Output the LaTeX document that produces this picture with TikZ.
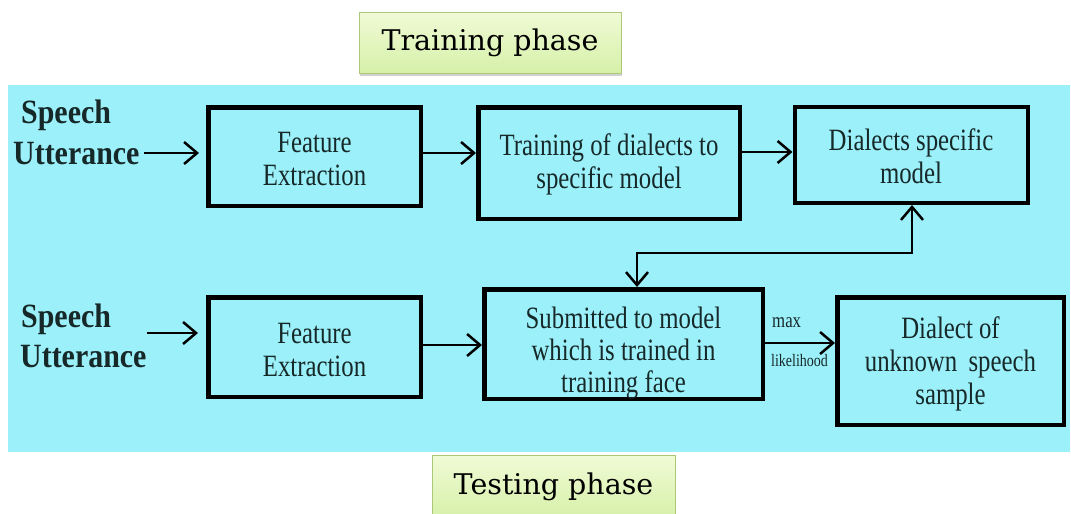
\documentclass[tikz,border=0pt]{standalone}
\usepackage{fontspec}
\setmainfont{Liberation Serif}
\newfontfamily\condserif[FakeStretch=0.8]{Liberation Serif}
\newfontfamily\labserif[FakeStretch=0.88]{Liberation Serif}
\newfontfamily\phaseserif{DejaVu Serif}
\usetikzlibrary{arrows.meta,shadows,calc}
\definecolor{bgcyan}{RGB}{156,240,250}
\definecolor{txtdark}{RGB}{22,40,40}
\definecolor{greentop}{RGB}{240,251,214}
\definecolor{greenbot}{RGB}{214,240,168}
\definecolor{greenedge}{RGB}{170,200,120}
\tikzset{
  blockbox/.style={draw=black, line width=4.5pt, fill=bgcyan, inner sep=0pt},
  boxtext/.style={align=center, inner sep=0pt, text=txtdark, font=\condserif\fontsize{31}{33}\selectfont},
  sulabel/.style={anchor=base west, inner sep=0pt, text=txtdark, font=\labserif\bfseries\fontsize{34}{40}\selectfont},
  phasebox/.style={draw=greenedge, line width=1pt, top color=greentop, bottom color=greenbot,
    drop shadow={shadow xshift=1pt, shadow yshift=-3pt, opacity=0.35},
    font=\phaseserif\fontsize{28.5}{32}\selectfont, text=black, inner sep=0pt},
  barb/.tip={Straight Barb[length=13pt,width=22pt,line width=2.5pt]},
  arr/.style={-barb, line width=2.6pt, black},
  arrr/.style={barb-barb, line width=2.6pt, black},
  smalllab/.style={inner sep=0pt, text=txtdark, anchor=base west}
}
\begin{document}
\begin{tikzpicture}[x=1pt,y=-1pt]
\useasboundingbox (0,0) rectangle (1071,514);
\fill[white] (0,0) rectangle (1071,514);
\fill[bgcyan] (8,85) rectangle (1070,452);

% phase labels
\node[phasebox, minimum width=262pt, minimum height=61pt] (train) at (490,42.5) {Training phase};
\node[phasebox, minimum width=243pt, minimum height=64pt] (test) at (553.5,487) {Testing phase};

% speech utterance labels
\node[sulabel] (su1a) at (21,123) {Speech};
\node[sulabel] (su1b) at (13,164) {Utterance};
\node[sulabel] (su2a) at (21,327) {Speech};
\node[sulabel] (su2b) at (20,367) {Utterance};

% training row
\node[blockbox, minimum width=212.5pt, minimum height=98.5pt] (fe1) at (314.5,156.5) {};
\node[blockbox, minimum width=261.5pt, minimum height=111.5pt] (tr) at (609,163) {};
\node[blockbox, line width=4pt, minimum width=233pt, minimum height=96pt] (dm) at (911,155) {};

% testing row
\node[blockbox, minimum width=212.5pt, minimum height=99.5pt] (fe2) at (314.5,347) {};
\node[blockbox, minimum width=278.5pt, minimum height=109.5pt] (sub) at (623.5,344) {};
\node[blockbox, minimum width=226.5pt, minimum height=127.5pt] (dial) at (950.5,361) {};

% box texts
\node[boxtext] (fe1t) at ($(fe1.center)+(0,3)$) {Feature\\Extraction};
\node[boxtext] (trt) at ($(tr.center)+(0,1.5)$) {Training of dialects to\\specific model};
\node[boxtext] (dmt) at ($(dm.center)+(0,1)$) {Dialects specific\\model};
\node[boxtext] (fe2t) at ($(fe2.center)+(0,2.5)$) {Feature\\Extraction};
\node[boxtext, font=\condserif\fontsize{31}{32}\selectfont] (subt) at ($(sub.center)+(0,9)$) {Submitted to model\\which is trained in\\training face};
\node[boxtext] (dialt) at ($(dial.center)+(0,3)$) {Dialect of\\unknown\, speech\\sample};

% connectors
\coordinate (s1) at (144,153);
\coordinate (s2) at (147,333);
\draw[arr, shorten >=7pt] (s1) -- (s1 -| fe1.west);
\draw[arr] (fe1.east |- 0,153) -- (tr.west |- 0,153);
\draw[arr] (tr.east |- 0,152) -- (dm.west |- 0,152);
\draw[arr, shorten >=8pt] (s2) -- (s2 -| fe2.west);
\draw[arr] (fe2.east |- 0,345) -- (sub.west |- 0,345);
\draw[arr] (sub.east |- 0,343) -- (dial.west |- 0,343);

\coordinate (k1) at (912,253);
\coordinate (k2) at (637,253);
\draw[arrr] (dm.south -| k1) -- (k1) -- (k2) -- (k2 |- sub.north);

\node[smalllab, font=\condserif\fontsize{21}{21}\selectfont] (mx) at (772,327) {max};
\node[smalllab, font=\condserif\fontsize{17.5}{17.5}\selectfont] (lk) at (771,366) {likelihood};
\end{tikzpicture}
\end{document}
